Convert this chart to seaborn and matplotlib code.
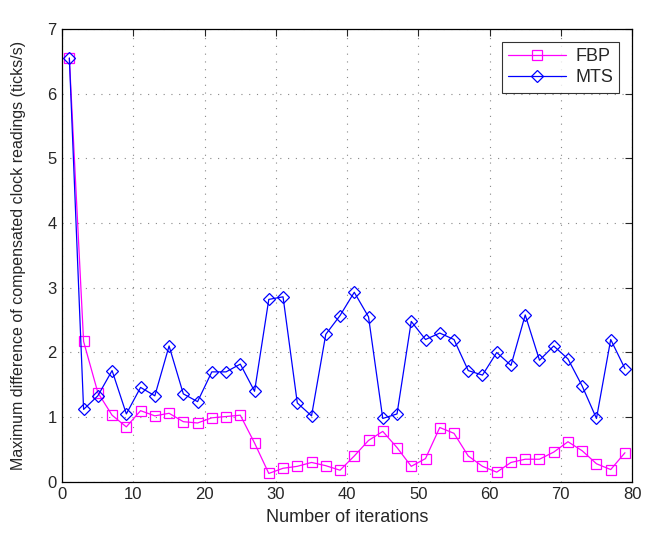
import numpy as np
import pandas as pd
import matplotlib
matplotlib.use('Agg')
import matplotlib.pyplot as plt
import seaborn as sns

# Iteration numbers (odd values 1..79)
iterations = list(range(1, 80, 2))

fbp = [6.55, 2.17, 1.38, 1.03, 0.85, 1.10, 1.02, 1.06, 0.93, 0.91,
       0.99, 1.01, 1.03, 0.60, 0.13, 0.21, 0.24, 0.30, 0.25, 0.18,
       0.40, 0.64, 0.78, 0.53, 0.24, 0.36, 0.84, 0.75, 0.40, 0.24,
       0.15, 0.30, 0.35, 0.35, 0.46, 0.62, 0.48, 0.28, 0.19, 0.45]

mts = [6.55, 1.12, 1.33, 1.72, 1.05, 1.46, 1.33, 2.10, 1.36, 1.24,
       1.70, 1.70, 1.82, 1.40, 2.82, 2.86, 1.22, 1.02, 2.28, 2.57,
       2.93, 2.55, 0.98, 1.05, 2.48, 2.20, 2.30, 2.20, 1.72, 1.65,
       2.00, 1.80, 2.58, 1.88, 2.10, 1.90, 1.48, 0.98, 2.20, 1.75]

series_names = ['FBP', 'MTS']
series_colors = {'FBP': '#ff00ff', 'MTS': '#0000ff'}
series_markers = {'FBP': 's', 'MTS': 'D'}

df = pd.DataFrame({
    'iteration': iterations * 2,
    'value': fbp + mts,
    'method': ['FBP'] * len(fbp) + ['MTS'] * len(mts),
})

sns.set_style('white')
plt.rcParams['font.family'] = ['Liberation Sans', 'DejaVu Sans']

fig = plt.figure(figsize=(6.55, 5.36), dpi=100)
ax = fig.add_axes([0.095, 0.101, 0.870, 0.845])

for name in series_names:
    sub = df[df['method'] == name]
    sns.lineplot(data=sub, x='iteration', y='value', ax=ax,
                 color=series_colors[name], marker=series_markers[name],
                 linewidth=0.9, label=name)

# open markers, MATLAB style
for line, name in zip(ax.lines, series_names):
    line.set_markerfacecolor('none')
    line.set_markeredgecolor(series_colors[name])
    line.set_markeredgewidth(0.9)
    line.set_markersize(6.5 if name == 'FBP' else 6)

ax.set_xlim(0, 80)
ax.set_ylim(0, 7)
ax.set_xticks(np.arange(0, 81, 10))
ax.set_yticks(np.arange(0, 8, 1))
ax.grid(True, linestyle=(0, (1, 6)), color='#888888', linewidth=0.8)
ax.tick_params(direction='in', top=True, right=True, length=5,
               labelsize=12, width=0.8, pad=4)
for s in ax.spines.values():
    s.set_linewidth(0.9)
    s.set_color('black')

ax.set_xlabel('Number of iterations', fontsize=13, labelpad=5)
ax.set_ylabel('Maximum difference of compensated clock readings (ticks/s)',
              fontsize=11.5, labelpad=15)

leg = ax.legend(loc='upper right', fontsize=13, frameon=True, fancybox=False,
                edgecolor='black', borderaxespad=0.7, handlelength=3.2,
                labelspacing=0.25, borderpad=0.35, handletextpad=0.5)
leg.get_frame().set_linewidth(0.8)

fig.savefig('out.png', dpi=100)
